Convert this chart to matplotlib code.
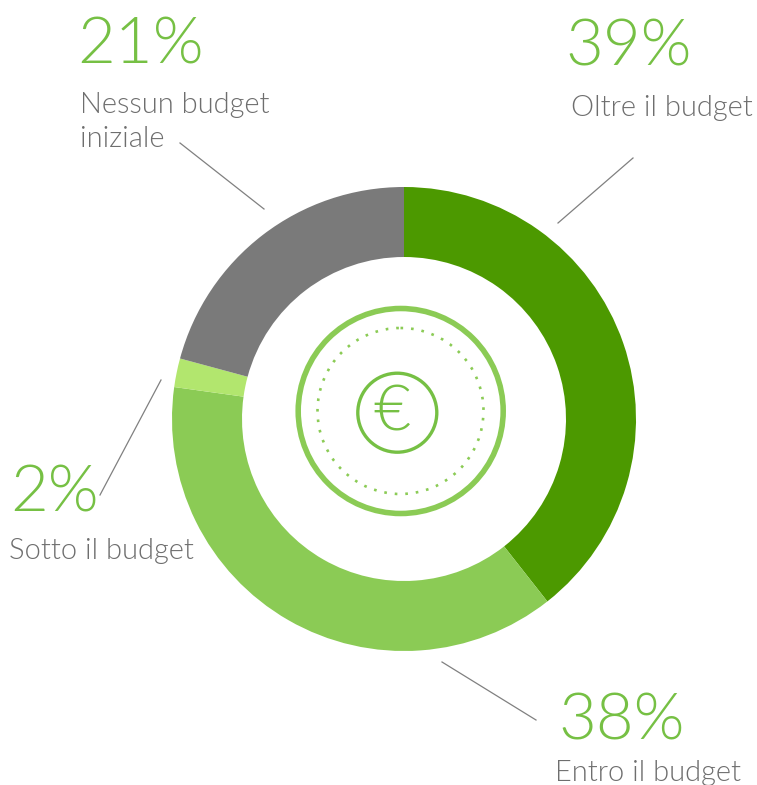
#!/usr/bin/env python3
"""Donut chart: budget outcome shares"""

import matplotlib

matplotlib.use("Agg")
import matplotlib.pyplot as plt
from matplotlib.patches import Circle

# Data
labels = ["Oltre il budget", "Entro il budget", "Sotto il budget", "Nessun budget\niniziale"]
percents = ["39%", "38%", "2%", "21%"]
# slice sizes as drawn in the picture, slightly off the printed labels
values = [39.4, 37.8, 2.0, 20.8]
slice_colors = ["#4C9900", "#8BCB55", "#B2E66E", "#7A7A7A"]

GREEN = "#76C044"
RING = "#8BCB55"
GREY = "#6E6E6E"
W, H = 757, 785

plt.rcParams["font.family"] = ["Lato", "DejaVu Sans"]

fig = plt.figure(figsize=(W / 100, H / 100), dpi=100)
ax = fig.add_axes([0, 0, 1, 1])

# Donut (y axis is inverted below, so counterclock runs clockwise on screen)
ax.pie(
    values,
    colors=slice_colors,
    startangle=270,
    counterclock=True,
    center=(404, 419),
    radius=232,
    wedgeprops=dict(width=70, linewidth=0),
    frame=True,
)
ax.set_xlim(0, W)
ax.set_ylim(H, 0)
ax.set_aspect("equal")
ax.axis("off")

# Centre icon
ax.add_patch(Circle((400.7, 411), 102.5, fill=False, ec=RING, lw=4))
ax.add_patch(Circle((400.5, 411), 83, fill=False, ec=RING, lw=1.9, ls=(0, (1, 3.0))))
ax.add_patch(Circle((397.3, 412.7), 39.5, fill=False, ec=GREEN, lw=2.4))
ax.text(392, 413, "€", color=GREEN, fontsize=46, ha="center", va="center", fontweight=300)

# Leader lines
leaders = [((633, 158), (558, 223)), ((442, 662), (536, 720)), ((161, 380), (100, 495)), ((180, 143), (264, 209))]
for (x0, y0), (x1, y1) in leaders:
    ax.plot([x0, x1], [y0, y1], color="#808080", lw=0.9)

# Percent labels and captions
pct_pos = [(565, 47), (558, 722), (10, 494), (77, 45)]
label_pos = [(571, 108), (555, 773), (9, 551), (80, 122)]
for pct, (px, py), lab, (lx, ly) in zip(percents, pct_pos, labels, label_pos):
    ax.text(px, py, pct, color=GREEN, fontsize=47, ha="left", va="center", fontweight=300)
    ax.text(lx, ly, lab, color=GREY, fontsize=21, ha="left", va="center", linespacing=1.4, fontweight=300)

fig.savefig("out.png", dpi=100, facecolor="white")
